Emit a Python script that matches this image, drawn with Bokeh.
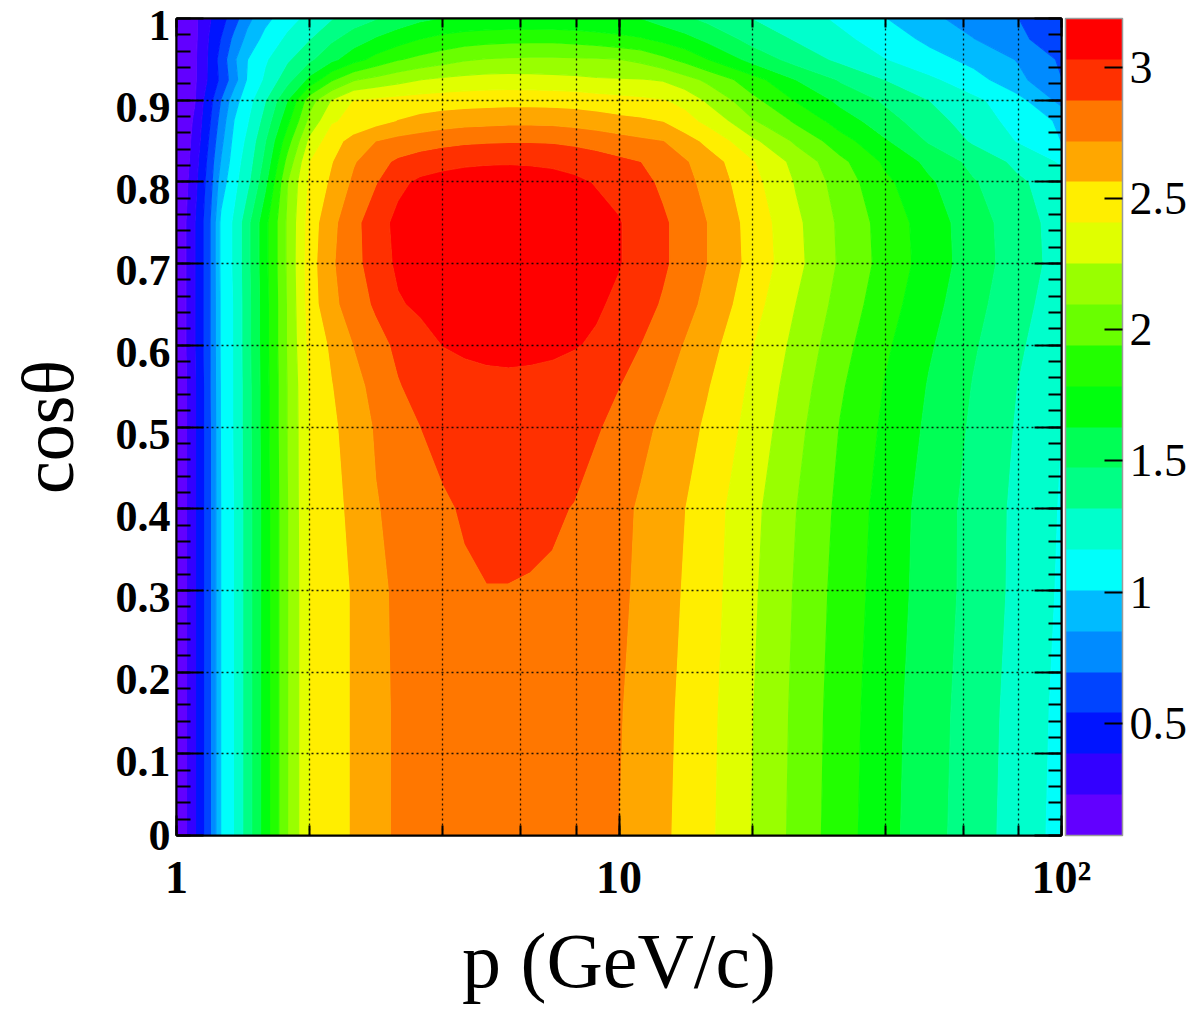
import numpy as np
from bokeh.plotting import figure
from bokeh.models import (LinearColorMapper, ColorBar, FixedTicker, LogAxis, LinearAxis,
                          CustomJSTickFormatter, LogTicker)
from bokeh.embed import file_html
from bokeh.resources import INLINE

# ---------------- data ----------------
# node positions: log10(p) columns and cos(theta) rows
log10_p_nodes = [0.00, 0.02, 0.04, 0.06, 0.08, 0.10, 0.13, 0.16, 0.20, 0.25, 0.30, 0.35, 0.40,
                 0.45, 0.50, 0.55, 0.60, 0.65, 0.70, 0.75, 0.80, 0.85, 0.90, 0.95, 1.00, 1.05,
                 1.10, 1.15, 1.20, 1.30, 1.40, 1.50, 1.60, 1.70, 1.80, 1.90, 2.00]
cos_theta_nodes = [0.0, 0.15, 0.3, 0.4, 0.5, 0.55, 0.6, 0.65, 0.7, 0.75, 0.8, 0.825, 0.85,
                   0.875, 0.9, 0.925, 0.95, 0.975, 1.0]

row_000 = [0.08, 0.21, 0.36, 0.53, 0.73, 1.01, 1.17, 1.40, 1.71, 2.09, 2.41, 2.50, 2.58, 2.68, 2.74, 2.78, 2.81, 2.83, 2.84, 2.85, 2.85, 2.84, 2.82, 2.77, 2.72, 2.66, 2.59, 2.52, 2.44, 2.25, 2.05, 1.85, 1.68, 1.53, 1.39, 1.25, 1.11]
row_015 = [0.08, 0.21, 0.36, 0.53, 0.73, 1.01, 1.17, 1.40, 1.71, 2.09, 2.41, 2.50, 2.58, 2.68, 2.74, 2.79, 2.82, 2.84, 2.86, 2.86, 2.86, 2.85, 2.83, 2.78, 2.73, 2.67, 2.60, 2.53, 2.45, 2.26, 2.06, 1.86, 1.69, 1.54, 1.40, 1.26, 1.12]
row_030 = [0.08, 0.21, 0.36, 0.53, 0.73, 1.01, 1.17, 1.40, 1.71, 2.09, 2.41, 2.50, 2.58, 2.68, 2.75, 2.80, 2.83, 2.855, 2.87, 2.87, 2.865, 2.86, 2.84, 2.80, 2.75, 2.69, 2.62, 2.55, 2.47, 2.28, 2.08, 1.88, 1.71, 1.56, 1.42, 1.28, 1.14]
row_040 = [0.08, 0.21, 0.36, 0.53, 0.73, 1.01, 1.17, 1.40, 1.71, 2.09, 2.42, 2.51, 2.61, 2.71, 2.76, 2.81, 2.855, 2.89, 2.93, 2.93, 2.91, 2.89, 2.87, 2.81, 2.76, 2.70, 2.63, 2.565, 2.48, 2.295, 2.10, 1.90, 1.72, 1.565, 1.42, 1.285, 1.15]
row_050 = [0.08, 0.21, 0.36, 0.53, 0.73, 1.02, 1.18, 1.41, 1.72, 2.10, 2.42, 2.535, 2.64, 2.735, 2.80, 2.875, 2.92, 2.95, 2.97, 2.98, 2.975, 2.96, 2.93, 2.89, 2.83, 2.76, 2.69, 2.615, 2.54, 2.35, 2.14, 1.935, 1.757, 1.60, 1.45, 1.305, 1.165]
row_055 = [0.08, 0.21, 0.36, 0.53, 0.74, 1.02, 1.18, 1.41, 1.72, 2.10, 2.43, 2.558, 2.67, 2.77, 2.865, 2.93, 2.96, 2.98, 2.99, 2.995, 2.99, 2.98, 2.96, 2.93, 2.88, 2.815, 2.74, 2.66, 2.575, 2.38, 2.17, 1.96, 1.78, 1.62, 1.468, 1.32, 1.18]
row_060 = [0.08, 0.22, 0.37, 0.54, 0.74, 1.03, 1.18, 1.42, 1.73, 2.11, 2.46, 2.59, 2.724, 2.82, 2.91, 2.97, 3.033, 3.055, 3.07, 3.075, 3.07, 3.06, 3.04, 3.01, 2.945, 2.875, 2.79, 2.71, 2.62, 2.42, 2.206, 1.995, 1.811, 1.649, 1.492, 1.344, 1.204]
row_065 = [0.08, 0.22, 0.37, 0.54, 0.74, 1.03, 1.18, 1.42, 1.73, 2.11, 2.49, 2.68, 2.80, 2.90, 3.015, 3.06, 3.10, 3.12, 3.135, 3.14, 3.135, 3.12, 3.09, 3.05, 3.00, 2.93, 2.86, 2.77, 2.68, 2.47, 2.252, 2.037, 1.849, 1.684, 1.522, 1.371, 1.231]
row_070 = [0.08, 0.22, 0.37, 0.54, 0.74, 1.04, 1.19, 1.43, 1.74, 2.12, 2.50, 2.70, 2.83, 2.95, 3.06, 3.10, 3.13, 3.15, 3.165, 3.175, 3.17, 3.155, 3.12, 3.08, 3.04, 2.97, 2.90, 2.81, 2.72, 2.515, 2.294, 2.075, 1.884, 1.716, 1.549, 1.396, 1.256]
row_075 = [0.08, 0.22, 0.37, 0.54, 0.74, 1.04, 1.19, 1.43, 1.74, 2.12, 2.485, 2.68, 2.83, 2.97, 3.07, 3.11, 3.14, 3.16, 3.175, 3.18, 3.175, 3.16, 3.13, 3.085, 3.04, 2.97, 2.90, 2.81, 2.72, 2.505, 2.285, 2.067, 1.876, 1.709, 1.543, 1.39, 1.25]
row_080 = [0.08, 0.19, 0.33, 0.50, 0.69, 0.93, 1.12, 1.28, 1.59, 2.09, 2.445, 2.59, 2.75, 2.865, 2.996, 3.06, 3.09, 3.11, 3.12, 3.12, 3.11, 3.09, 3.06, 3.02, 2.99, 2.92, 2.846, 2.765, 2.67, 2.46, 2.24, 2.025, 1.82, 1.655, 1.49, 1.35, 1.22]
row_0825 = [0.08, 0.17, 0.31, 0.47, 0.66, 0.86, 1.09, 1.24, 1.52, 1.99, 2.41, 2.556, 2.705, 2.823, 2.90, 2.95, 2.98, 3.00, 3.01, 3.015, 3.01, 3.00, 2.98, 2.95, 2.91, 2.875, 2.80, 2.735, 2.64, 2.427, 2.20, 1.98, 1.76, 1.59, 1.43, 1.28, 1.145]
row_085 = [0.08, 0.15, 0.286, 0.435, 0.616, 0.81, 1.054, 1.20, 1.465, 1.875, 2.296, 2.504, 2.621, 2.72, 2.77, 2.80, 2.83, 2.85, 2.86, 2.865, 2.865, 2.86, 2.84, 2.81, 2.78, 2.75, 2.725, 2.63, 2.527, 2.29, 2.07, 1.85, 1.65, 1.46, 1.30, 1.157, 1.005]
row_0875 = [0.08, 0.13, 0.258, 0.41, 0.57, 0.76, 1.01, 1.15, 1.38, 1.74, 2.14, 2.39, 2.458, 2.51, 2.57, 2.61, 2.64, 2.66, 2.67, 2.68, 2.68, 2.675, 2.66, 2.64, 2.61, 2.59, 2.56, 2.467, 2.364, 2.116, 1.914, 1.71, 1.536, 1.38, 1.245, 1.105, 0.98]
row_090 = [0.08, 0.12, 0.21, 0.38, 0.53, 0.70, 0.946, 1.10, 1.31, 1.625, 2.03, 2.26, 2.415, 2.44, 2.465, 2.48, 2.49, 2.50, 2.505, 2.51, 2.51, 2.505, 2.50, 2.48, 2.46, 2.44, 2.42, 2.36, 2.23, 1.986, 1.774, 1.59, 1.453, 1.32, 1.20, 1.062, 0.80]
row_0925 = [0.08, 0.11, 0.20, 0.33, 0.454, 0.576, 0.79, 1.024, 1.19, 1.418, 1.675, 1.92, 2.083, 2.145, 2.20, 2.25, 2.28, 2.30, 2.31, 2.315, 2.31, 2.30, 2.29, 2.27, 2.265, 2.26, 2.24, 2.155, 2.064, 1.852, 1.63, 1.459, 1.32, 1.196, 1.07, 0.894, 0.70]
row_095 = [0.08, 0.10, 0.20, 0.32, 0.46, 0.60, 0.828, 1.005, 1.144, 1.295, 1.445, 1.59, 1.725, 1.836, 1.93, 1.984, 2.03, 2.08, 2.105, 2.115, 2.12, 2.12, 2.115, 2.11, 2.10, 2.06, 1.98, 1.894, 1.79, 1.58, 1.41, 1.285, 1.17, 1.068, 0.962, 0.844, 0.67]
row_0975 = [0.08, 0.10, 0.19, 0.31, 0.437, 0.545, 0.741, 0.90, 1.058, 1.197, 1.312, 1.448, 1.554, 1.646, 1.715, 1.785, 1.83, 1.865, 1.885, 1.895, 1.90, 1.90, 1.885, 1.86, 1.83, 1.80, 1.745, 1.68, 1.594, 1.419, 1.305, 1.20, 1.088, 0.972, 0.857, 0.733, 0.59]
row_100 = [0.08, 0.10, 0.19, 0.30, 0.397, 0.478, 0.632, 0.81, 0.964, 1.103, 1.214, 1.31, 1.402, 1.465, 1.545, 1.60, 1.635, 1.65, 1.66, 1.665, 1.665, 1.66, 1.65, 1.64, 1.635, 1.63, 1.563, 1.50, 1.438, 1.32, 1.232, 1.136, 1.015, 0.885, 0.788, 0.70, 0.57]

value_rows = [row_000, row_015, row_030, row_040, row_050, row_055, row_060, row_065, row_070,
              row_075, row_080, row_0825, row_085, row_0875, row_090, row_0925, row_095,
              row_0975, row_100]

z_min, z_max, n_contours = 0.073, 3.186, 20
palette = ["#6200ff", "#3300ff", "#0014ff", "#0044ff", "#008bff", "#00bbff", "#00fffb",
           "#00ffcc", "#00ff85", "#00ff55", "#00ff0e", "#22ff00", "#69ff00", "#99ff00",
           "#e0ff00", "#ffee00", "#ffa700", "#ff7700", "#ff3000", "#ff0000"]
y_major_ticks = [0.0, 0.1, 0.2, 0.3, 0.4, 0.5, 0.6, 0.7, 0.8, 0.9, 1.0]
y_minor_ticks = [round(0.02 * i, 2) for i in range(51)]
cbar_ticks = [0.5, 1.0, 1.5, 2.0, 2.5, 3.0]
x_title = "p (GeV/c)"
y_title = "cos\u03b8"

# ---------------- figure ----------------
FONT = "Liberation Serif"
p_nodes = 10 ** np.array(log10_p_nodes)
z = np.array(value_rows)
levels = np.linspace(z_min, z_max, n_contours + 1)

p = figure(width=1193, height=1009, x_axis_type="log", x_range=(1, 100), y_range=(0, 1),
           output_backend="svg", toolbar_location=None,
           min_border_left=176, min_border_right=132, min_border_top=18, min_border_bottom=174,
           background_fill_color="white", border_fill_color="white")

p.contour(x=p_nodes, y=cos_theta_nodes, z=z, levels=levels, fill_color=palette,
          line_color=[palette[0]] + palette, line_width=1.2)

p.outline_line_color = "black"
p.outline_line_width = 2

# grids (dotted, drawn above the colour map)
for g in (p.xgrid, p.ygrid):
    g.grid_line_color = "black"
    g.grid_line_dash = "2 3"
    g.grid_line_width = 1.3
    g.grid_line_alpha = 0.85
    g.level = "annotation"
p.xgrid.minor_grid_line_color = "black"
p.xgrid.minor_grid_line_dash = "2 3"
p.xgrid.minor_grid_line_width = 1.3
p.xgrid.minor_grid_line_alpha = 0.85

# bottom x axis
xa = p.xaxis[0]
xa.ticker = LogTicker()
xa.formatter = CustomJSTickFormatter(code="""
const e = Math.round(Math.log10(tick));
if (e == 0) return '1';
if (e == 1) return '10';
return '10\u00b2';
""")
xa.major_tick_in = 20
xa.major_tick_out = 0
xa.minor_tick_in = 10
xa.minor_tick_out = 0
xa.major_tick_line_width = 2
xa.minor_tick_line_width = 2
xa.axis_line_width = 2
xa.major_label_standoff = 16
xa.major_label_text_font = FONT
xa.major_label_text_font_style = "bold"
xa.major_label_text_font_size = "46px"
xa.major_label_text_color = "black"
xa.axis_label = x_title
xa.axis_label_text_font = FONT
xa.axis_label_text_font_style = "normal"
xa.axis_label_text_font_size = "78px"
xa.axis_label_text_color = "black"
xa.axis_label_standoff = 11

# left y axis: ticks only (closest to the frame)
ya = p.yaxis[0]
ya.ticker = FixedTicker(ticks=y_major_ticks, minor_ticks=y_minor_ticks)
ya.major_tick_in = 27
ya.major_tick_out = 0
ya.minor_tick_in = 14
ya.minor_tick_out = 0
ya.major_tick_line_width = 2
ya.minor_tick_line_width = 2
ya.axis_line_width = 2
ya.major_label_standoff = 0
ya.major_label_text_font_size = "2px"
ya.major_label_text_color = None

# second left axis carrying the tick labels, set slightly below each tick (ROOT style);
# the "0" label stays on its tick so that it remains inside the axis range
label_shift = 0.009
label_positions = [y_major_ticks[0]] + [t - label_shift for t in y_major_ticks[1:]]
label_axis = LinearAxis(
    ticker=FixedTicker(ticks=label_positions),
    formatter=CustomJSTickFormatter(code="return String(Math.round(tick*10)/10);"),
    axis_line_color=None, major_tick_line_color=None,
    minor_tick_line_color=None, major_tick_in=0, major_tick_out=0,
    major_label_standoff=6, major_label_text_font=FONT, major_label_text_font_style="bold",
    major_label_text_font_size="44px", major_label_text_color="black",
    axis_label=y_title, axis_label_text_font=FONT, axis_label_text_font_style="normal",
    axis_label_text_font_size="74px", axis_label_text_color="black",
    axis_label_standoff=24)
p.add_layout(label_axis, "left")

# top and right tick-only axes
top_axis = LogAxis(ticker=LogTicker(), major_label_text_font_size="2px",
                   major_label_text_color=None, major_label_standoff=0,
                   major_tick_in=18, major_tick_out=0,
                   minor_tick_in=9, minor_tick_out=0, major_tick_line_width=2,
                   minor_tick_line_width=2, axis_line_width=2)
p.add_layout(top_axis, "above")
right_axis = LinearAxis(ticker=FixedTicker(ticks=y_major_ticks, minor_ticks=y_minor_ticks),
                        major_label_text_font_size="2px", major_label_text_color=None,
                        major_label_standoff=0,
                        major_tick_in=27, major_tick_out=0, minor_tick_in=13,
                        minor_tick_out=0, major_tick_line_width=2, minor_tick_line_width=2,
                        axis_line_width=2)
p.add_layout(right_axis, "right")

# colour bar
mapper = LinearColorMapper(palette=palette, low=z_min, high=z_max)
cbar = ColorBar(color_mapper=mapper, ticker=FixedTicker(ticks=cbar_ticks),
                formatter=CustomJSTickFormatter(code="return String(Math.round(tick*10)/10);"),
                width=57, height=817, padding=0, margin=0, location=(4, 0),
                major_tick_in=18, major_tick_out=0, major_tick_line_color="black",
                major_tick_line_width=2, minor_tick_line_color=None,
                label_standoff=7, major_label_text_font=FONT,
                major_label_text_font_size="46px", major_label_text_color="black",
                bar_line_color="#9a9a9a",
                bar_line_width=1.5, background_fill_color=None, border_line_color=None)
p.add_layout(cbar, "right")

open("out.html", "w").write(file_html(p, INLINE))
